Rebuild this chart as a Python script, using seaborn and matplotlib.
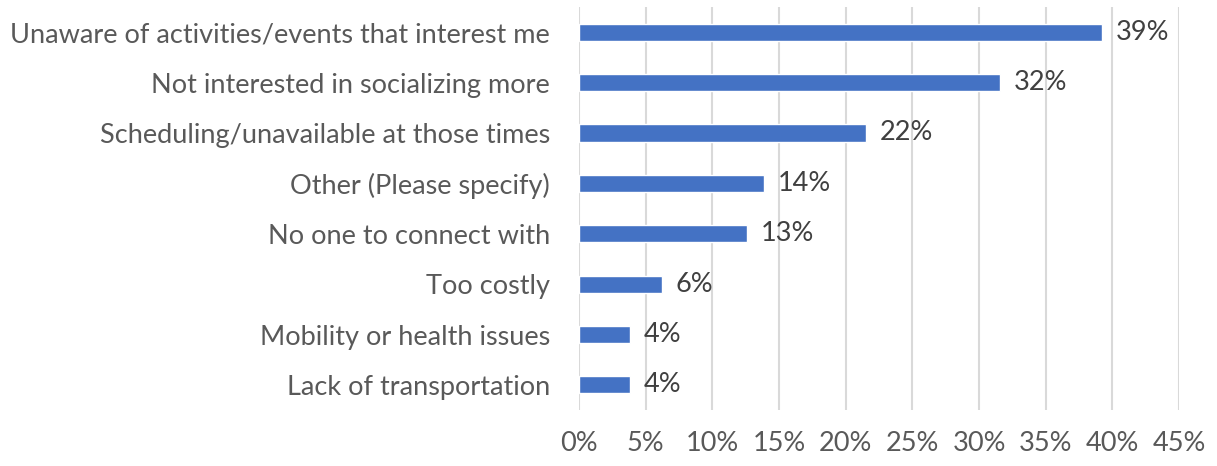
import numpy as np
import pandas as pd
import seaborn as sns
import matplotlib.pyplot as plt
from matplotlib.ticker import PercentFormatter

reasons = ['Unaware of activities/events that interest me',
           'Not interested in socializing more',
           'Scheduling/unavailable at those times',
           'Other (Please specify)',
           'No one to connect with',
           'Too costly',
           'Mobility or health issues',
           'Lack of transportation']
share = [39.2, 31.6, 21.5, 13.9, 12.6, 6.2, 3.8, 3.8]

df = pd.DataFrame({'reason': reasons, 'share': share})

sns.set_style('white')
plt.rcParams['font.family'] = ['Lato', 'DejaVu Sans']

fig = plt.figure(figsize=(12.17, 4.66), dpi=100)
ax = fig.add_axes([0.4758, 0.120, 0.4930, 0.865])

sns.barplot(data=df, x='share', y='reason', orient='h', color='#4472C4',
            saturation=1, width=0.34, ax=ax)

# percentage labels right of each bar
ax.bar_label(ax.containers[0], labels=[f'{v:.0f}%' for v in share],
             padding=10, fontsize=19.5, color='#404040')

ax.set_xlim(0, 45)
ax.set_xticks(np.arange(0, 46, 5))
ax.xaxis.set_major_formatter(PercentFormatter(decimals=0))
ax.grid(axis='x', color='#d9d9d9', linewidth=1.5)
ax.set_axisbelow(True)
for s in ax.spines.values():
    s.set_visible(False)
ax.tick_params(axis='both', length=0, labelsize=19.5, labelcolor='#595959')
ax.tick_params(axis='x', pad=15)
ax.tick_params(axis='y', pad=21)
ax.set_xlabel('')
ax.set_ylabel('')

plt.savefig('out.png', dpi=100)
